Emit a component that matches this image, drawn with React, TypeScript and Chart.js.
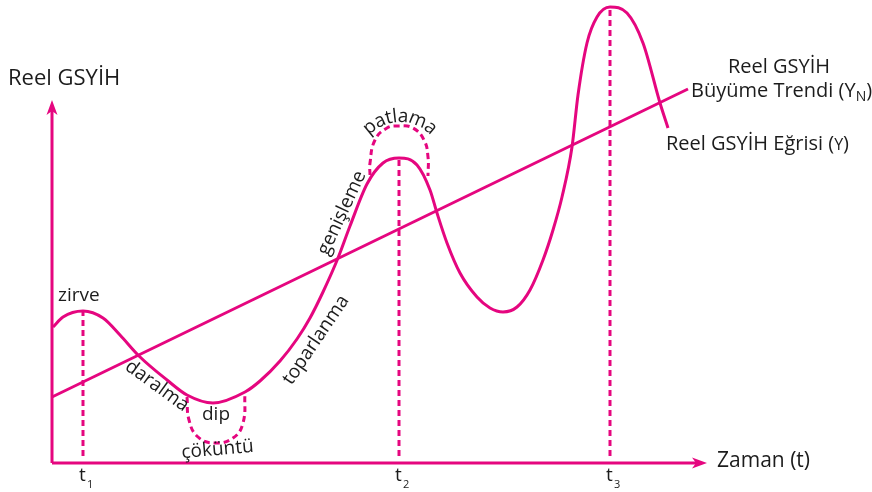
import React, { useEffect, useRef } from "react";
import { Chart, registerables } from "chart.js";

Chart.register(...registerables);

// Conceptual units: x = time from origin, y = real GDP above the time axis
const cycleX = [1, 11, 31, 51, 68, 87, 115, 135, 161, 193, 208, 228, 245, 258, 271, 286, 298, 315, 331, 347, 365, 378, 385, 395, 408, 425, 438, 451, 465, 478, 491, 501, 510, 520, 526, 535, 545, 558, 575, 591, 608, 616];
const cycleY = [136, 146, 152, 145, 128, 107, 83, 68, 60, 71, 82, 102, 124, 145, 171, 205, 237, 279, 300, 305, 298, 273, 250, 220, 190, 166, 155, 151, 156, 173, 203, 233, 266, 316, 368, 420, 446, 456, 450, 420, 360, 335];

const trendX = [0, 636];
const trendY = [66, 374];

const peakTimes = [31, 347, 558];
const peakValues = [152, 305, 456];
const timeTicks = ["1", "2", "3"];

const boomX = [318, 318, 323, 335, 347, 361, 372, 376, 376];
const boomY = [288, 300, 323, 335, 337, 335, 323, 306, 287];

const slumpX = [135, 137, 146, 163, 181, 191, 193];
const slumpY = [66, 43, 26, 20, 25, 40, 70];

const axisEndX = 655;
const axisEndY = 363;

const MAGENTA = "#E5067F";
const TEXT = "#1c1c1c";
const FONT = "'Open Sans', 'Noto Sans', sans-serif";

const pts = (xs: number[], ys: number[]) => xs.map((x, i) => ({ x, y: ys[i] }));

export default function App() {
  const ref = useRef<HTMLCanvasElement | null>(null);

  useEffect(() => {
    if (!ref.current) return;
    const lineBase = {
      borderColor: MAGENTA,
      borderWidth: 3,
      pointRadius: 0,
      fill: false,
    };
    const dashed = { ...lineBase, borderDash: [6, 4] };

    const datasets: any[] = [
      { ...lineBase, data: pts(cycleX, cycleY), cubicInterpolationMode: "monotone" },
      { ...lineBase, data: pts(trendX, trendY) },
      { ...lineBase, data: [{ x: 0, y: 0 }, { x: axisEndX - 8, y: 0 }] },
      { ...lineBase, data: [{ x: 0, y: 0 }, { x: 0, y: axisEndY - 8 }] },
      ...peakTimes.map((t, i) => ({ ...dashed, data: [{ x: t, y: 7 }, { x: t, y: peakValues[i] }] })),
      { ...dashed, data: pts(boomX, boomY), tension: 0.45 },
      { ...dashed, data: pts(slumpX, slumpY), tension: 0.45 },
    ];

    const textPlugin = {
      id: "labels",
      afterDatasetsDraw(chart: any) {
        const { ctx } = chart;
        const sx = chart.scales.x;
        const sy = chart.scales.y;
        const px = (v: number) => sx.getPixelForValue(v);
        const py = (v: number) => sy.getPixelForValue(v);
        ctx.save();
        // arrowheads
        ctx.fillStyle = MAGENTA;
        const ox = px(0), oy = py(0);
        const ax = px(axisEndX), ay = py(axisEndY);
        ctx.beginPath();
        ctx.moveTo(ax, oy);
        ctx.lineTo(ax - 15, oy - 5.5);
        ctx.lineTo(ax - 11, oy);
        ctx.lineTo(ax - 15, oy + 5.5);
        ctx.closePath();
        ctx.fill();
        ctx.beginPath();
        ctx.moveTo(ox, ay);
        ctx.lineTo(ox - 5.5, ay + 15);
        ctx.lineTo(ox, ay + 11);
        ctx.lineTo(ox + 5.5, ay + 15);
        ctx.closePath();
        ctx.fill();

        ctx.fillStyle = TEXT;
        const text = (s: string, x: number, y: number, size: number, align: CanvasTextAlign = "left", rot = 0, base: CanvasTextBaseline = "alphabetic") => {
          ctx.save();
          ctx.font = `${size}px ${FONT}`;
          ctx.textAlign = align;
          ctx.textBaseline = base;
          ctx.translate(x, y);
          ctx.rotate((rot * Math.PI) / 180);
          ctx.fillText(s, 0, 0);
          ctx.restore();
        };
        const width = (s: string, size: number) => {
          ctx.font = `${size}px ${FONT}`;
          return ctx.measureText(s).width;
        };
        text("Reel GSYİH", 8, 85, 22);
        text("Zaman (t)", 717, 467, 21);
        text("Reel GSYİH", 728, 73, 20);
        const bt = "Büyüme Trendi (Y";
        const bw = width(bt, 20);
        text(bt, 691, 97, 20);
        const nw = width("N", 14);
        text("N", 691 + bw, 101, 14);
        text(")", 691 + bw + nw, 97, 20);
        const et = "Reel GSYİH Eğrisi (";
        const ew = width(et, 20);
        text(et, 666, 150, 20);
        const yw = width("Y", 16);
        text("Y", 666 + ew, 150, 16);
        text(")", 666 + ew + yw, 150, 20);

        // time ticks
        peakTimes.forEach((t, i) => {
          const x = px(t);
          text("t", x - 4, 481, 19);
          text(timeTicks[i], x + 4, 488, 11);
        });

        text("zirve", 58, 301, 19);
        text("daralma", 157, 386, 19, "center", 36, "middle");
        text("dip", 216, 420, 19, "center");
        text("çöküntü", 218, 455, 19, "center", -5);
        text("toparlanma", 316, 340, 19, "center", -56, "middle");
        text("genişleme", 342, 213, 19, "center", -65, "middle");

        // curved "patlama"
        ctx.font = `19px ${FONT}`;
        const word = "patlama";
        const r = 42;
        const cx = px(348), cy = py(299);
        const total = ctx.measureText(word).width * 0.95;
        let acc = 0;
        for (const ch of word) {
          const w = ctx.measureText(ch).width * 0.95;
          const a = (acc + w / 2 - total / 2) / r;
          ctx.save();
          ctx.translate(cx + r * Math.sin(a), cy - r * Math.cos(a));
          ctx.rotate(a);
          ctx.textAlign = "center";
          ctx.textBaseline = "alphabetic";
          ctx.fillText(ch, 0, 0);
          ctx.restore();
          acc += w;
        }
        ctx.restore();
      },
    };

    const chart = new Chart(ref.current, {
      type: "line",
      data: { datasets },
      options: {
        animation: false,
        responsive: false,
        devicePixelRatio: 1,
        layout: { padding: 0 },
        plugins: { legend: { display: false }, tooltip: { enabled: false } },
        scales: {
          x: { type: "linear", min: -52, max: 820, display: false },
          y: { type: "linear", min: -29, max: 463, display: false },
        },
      },
      plugins: [textPlugin],
    });
    return () => chart.destroy();
  }, []);

  return (
    <div style={{ position: "fixed", left: 0, top: 0, width: 872, height: 492, background: "#fff" }}>
      <canvas ref={ref} width={872} height={492} />
    </div>
  );
}
